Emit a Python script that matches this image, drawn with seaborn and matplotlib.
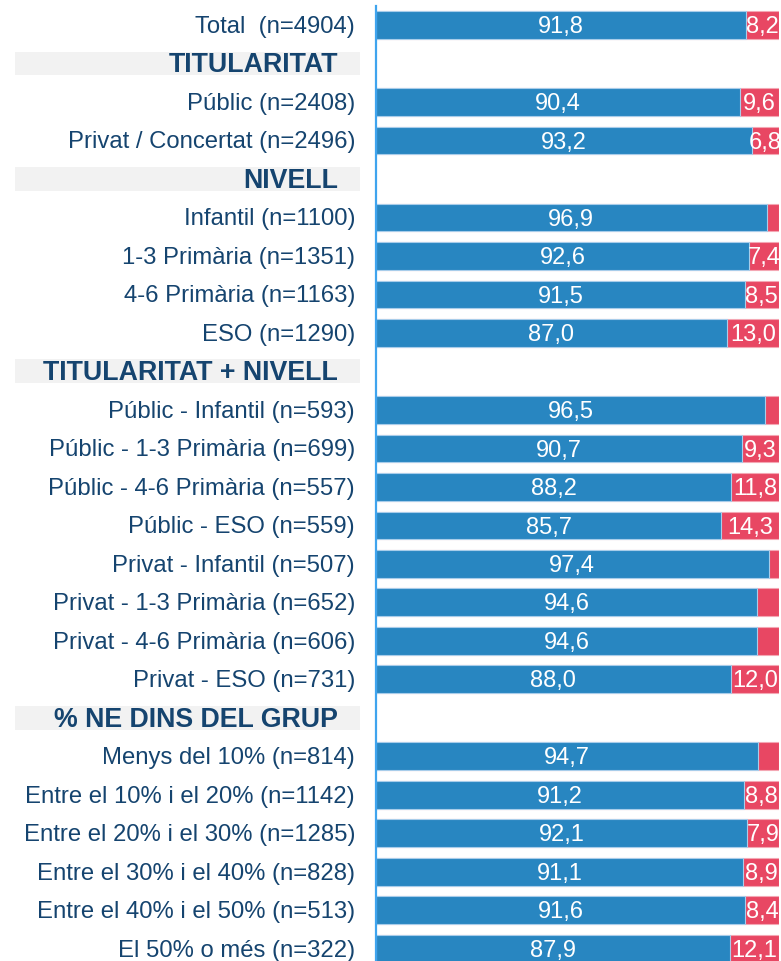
import pandas as pd
import seaborn as sns
import matplotlib.pyplot as plt
from matplotlib.transforms import blended_transform_factory
from matplotlib.patches import Rectangle

sns.set_style("white")
plt.rcParams['font.family'] = ['Liberation Sans', 'DejaVu Sans']

# row labels in display order, headers marked separately
rows = ['Total  (n=4904)', 'TITULARITAT',
        'Públic (n=2408)', 'Privat / Concertat (n=2496)', 'NIVELL',
        'Infantil (n=1100)', '1-3 Primària (n=1351)', '4-6 Primària (n=1163)', 'ESO (n=1290)',
        'TITULARITAT + NIVELL',
        'Públic - Infantil (n=593)', 'Públic - 1-3 Primària (n=699)', 'Públic - 4-6 Primària (n=557)',
        'Públic - ESO (n=559)', 'Privat - Infantil (n=507)', 'Privat - 1-3 Primària (n=652)',
        'Privat - 4-6 Primària (n=606)', 'Privat - ESO (n=731)',
        '% NE DINS DEL GRUP',
        'Menys del 10% (n=814)', 'Entre el 10% i el 20% (n=1142)', 'Entre el 20% i el 30% (n=1285)',
        'Entre el 30% i el 40% (n=828)', 'Entre el 40% i el 50% (n=513)', 'El 50% o més (n=322)']
headers = ['TITULARITAT', 'NIVELL', 'TITULARITAT + NIVELL', '% NE DINS DEL GRUP']

groups = [r for r in rows if r not in headers]
si = [91.8, 90.4, 93.2, 96.9, 92.6, 91.5, 87.0,
      96.5, 90.7, 88.2, 85.7, 97.4, 94.6, 94.6, 88.0,
      94.7, 91.2, 92.1, 91.1, 91.6, 87.9]
no = [8.2, 9.6, 6.8, 3.1, 7.4, 8.5, 13.0,
      3.5, 9.3, 11.8, 14.3, 2.6, 5.4, 5.4, 12.0,
      5.3, 8.8, 7.9, 8.9, 8.4, 12.1]

df = pd.DataFrame({'grup': groups, 'si': si, 'no': no})
df['total'] = df['si'] + df['no']

blue = '#2886C1'
red = '#E84763'
navy = '#15446F'

fig = plt.figure(figsize=(7.81, 9.62), dpi=100)
ax = fig.add_axes([376 / 781, -7 / 962, 403 / 781, 962.25 / 962])

sns.barplot(data=df, y='grup', x='total', order=rows, orient='h', color=red, saturation=1,
            width=0.72, edgecolor='#F4A7B4', linewidth=0.8, ax=ax)
sns.barplot(data=df, y='grup', x='si', order=rows, orient='h', color=blue, saturation=1,
            width=0.72, edgecolor='#A8CDEA', linewidth=0.8, ax=ax)

ax.set_xlim(0, 100)
ax.set_ylim(len(rows) - 0.5, -0.5)
ax.set_xlabel('')
ax.set_ylabel('')
ax.set_xticks([])
ax.set_yticks([])
for s in ['top', 'right', 'bottom']:
    ax.spines[s].set_visible(False)
ax.spines['left'].set_color('#3FA4EE')
ax.spines['left'].set_linewidth(1.6)
ax.spines['left'].set_bounds(len(rows) - 0.5, -0.5)

# value labels
pos = {r: i for i, r in enumerate(rows)}
for _, r in df.iterrows():
    y = pos[r['grup']]
    ax.text(r['si'] / 2, y + 0.03, f"{r['si']:.1f}".replace('.', ','), ha='center', va='center',
            color='white', fontsize=17)
    if r['no'] > 6:
        ax.text(r['si'] + r['no'] / 2, y + 0.03, f"{r['no']:.1f}".replace('.', ','), ha='center',
                va='center', color='white', fontsize=17, clip_on=False)

# left labels and header bands
tr = blended_transform_factory(fig.transFigure, ax.transData)
for r in rows:
    y = pos[r]
    if r in headers:
        fig.patches.append(Rectangle((15 / 781, y - 0.31), 345 / 781, 0.62, transform=tr,
                                     facecolor='#F2F2F2', edgecolor='none', zorder=0))
        fig.text(338 / 781, y + 0.02, r, transform=tr, ha='right', va='center',
                 color=navy, fontsize=19.3, fontweight='bold', zorder=2)
    else:
        fig.text(355 / 781, y + 0.02, r, transform=tr, ha='right', va='center',
                 color=navy, fontsize=17.2, zorder=2)

fig.savefig('out.png', dpi=100)
